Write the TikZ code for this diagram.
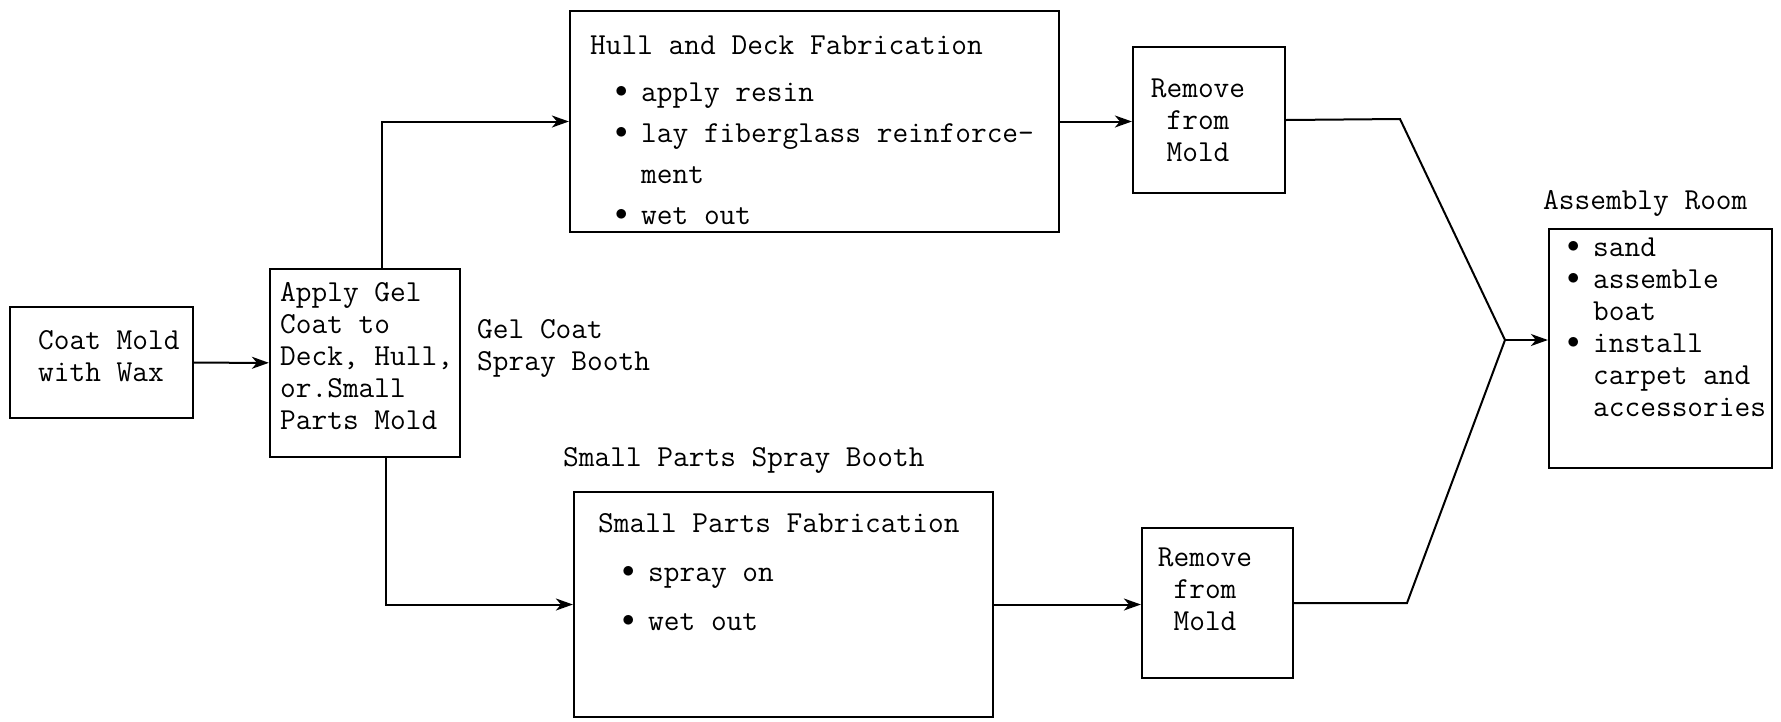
\documentclass[tikz,border=0pt]{standalone}
\usepackage{fontspec}
\usetikzlibrary{arrows.meta,calc}

\newcommand{\dotitem}{\makebox[26pt][l]{\raisebox{4pt}{\fontsize{44pt}{0pt}\selectfont$\bullet$}}}

\begin{document}
\begin{tikzpicture}[
    x=1pt, y=-1pt,
    box/.style={draw, line width=2.2pt, inner sep=0pt},
    txt/.style={font=\ttfamily\fontsize{30.5pt}{32pt}\selectfont, inner sep=0pt, anchor=base west, align=left},
    wire/.style={line width=2pt},
    arr/.style={wire, -{Stealth[length=17pt,width=12pt,inset=5pt]}}
  ]
  \useasboundingbox (0,0) rectangle (1781,721);

  % boxes
  \node[box, minimum width=183pt, minimum height=111pt] (coat) at (101.5,362.5) {};
  \node[box, minimum width=190pt, minimum height=188pt] (apply) at (365,363) {};
  \node[box, minimum width=489pt, minimum height=221pt] (hull) at (814.5,121.5) {};
  \node[box, minimum width=152pt, minimum height=146pt] (rem1) at (1209,120) {};
  \node[box, minimum width=419pt, minimum height=225pt] (sp) at (783.5,604.5) {};
  \node[box, minimum width=151pt, minimum height=150pt] (rem2) at (1217.5,603) {};
  \node[box, minimum width=223pt, minimum height=239pt] (asm) at (1660.5,348.5) {};

  % texts (placed by the baseline of their last line)
  \node[txt] (coattxt) at (38,381) {Coat Mold\\with Wax};
  \node[txt] (applytxt) at (280,429) {Apply Gel\\Coat to\\Deck, Hull,\\or.Small\\Parts Mold};
  \node[txt] (gelbooth) at (477,370) {Gel Coat\\Spray Booth};
  \node[txt, font=\ttfamily\fontsize{30.5pt}{41pt}\selectfont] (hulltxt) at (590,224)
    {Hull and Deck Fabrication\\[6pt]
     \hspace*{25pt}\dotitem apply resin\\
     \hspace*{25pt}\dotitem lay fiberglass reinforce-\\
     \hspace*{51pt}ment\\
     \hspace*{25pt}\dotitem wet out};
  \node[txt] (spbooth) at (563,466) {Small Parts Spray Booth};
  \node[txt, font=\ttfamily\fontsize{30.5pt}{49pt}\selectfont] (sptxt) at (598,630)
    {Small Parts Fabrication\\
     \hspace*{24pt}\dotitem spray on\\
     \hspace*{24pt}\dotitem wet out};
  \node[txt, anchor=base, align=center] (rem1txt) at (1198,161) {Remove\\from\\Mold};
  \node[txt, anchor=base, align=center] (rem2txt) at (1205,630) {Remove\\from\\Mold};
  \node[txt] (room) at (1543,209) {Assembly Room};
  \node[txt] (asmtxt) at (1567,416)
    {\dotitem sand\\
     \dotitem assemble\\
     \hspace*{26pt}boat\\
     \dotitem install\\
     \hspace*{26pt}carpet and\\
     \hspace*{26pt}accessories};

  % connectors
  \coordinate (bendtop) at (1400,119);
  \coordinate (bendlow) at (1407,603);
  \coordinate (join) at (1505,340);
  \draw[arr] (coat) -- (apply);
  \draw[arr] ([xshift=17pt]apply.north) |- (hull.west);
  \draw[arr] ([xshift=21pt]apply.south) |- (sp.west);
  \draw[arr] (hull.east) -- (hull.east -| rem1.west);
  \draw[arr] (sp.east) -- (sp.east -| rem2.west);
  \draw[wire] (rem1.east) -- (bendtop) -- (join);
  \draw[wire] (rem2.east) -- (bendlow) -- (join);
  \draw[arr] (join) -- (join -| asm.west);
\end{tikzpicture}
\end{document}
